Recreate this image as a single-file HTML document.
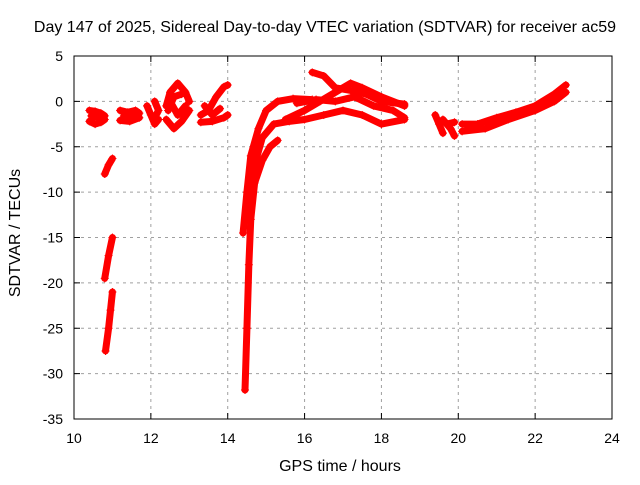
<!DOCTYPE html>
<html><head><meta charset="utf-8"><style>
body{margin:0;background:#fff;}
svg text{font-family:"Liberation Sans",sans-serif;font-size:14px;fill:#000;}
svg text.big{font-size:16px;}
</style></head><body>
<svg id="chart" width="640" height="480">
<text class="big" x="325" y="32" text-anchor="middle">Day 147 of 2025, Sidereal Day-to-day VTEC variation (SDTVAR) for receiver ac59</text>
<g id="grid"></g>
<g id="ticks"></g>
<g id="marks"></g>
<rect x="74" y="56" width="538" height="363" fill="none" stroke="#000" stroke-width="1"/>
<text class="big" x="340" y="471" text-anchor="middle">GPS time / hours</text>
<text class="big" transform="translate(20,233) rotate(-90)" text-anchor="middle">SDTVAR / TECUs</text>
</svg>
<script>
const xTicks=[10,12,14,16,18,20,22,24];
const yTicks=[5,0,-5,-10,-15,-20,-25,-30,-35];
const tracks=[
 [[10.4,-1],[10.55,-1.1],[10.7,-1.3],[10.8,-1.6]],
 [[10.4,-2.2],[10.55,-2.5],[10.7,-2.3],[10.8,-2]],
 [[10.45,-1.6],[10.7,-1.8]],
 [[11.2,-1],[11.4,-1.2],[11.6,-1],[11.7,-1.3]],
 [[11.2,-2.1],[11.45,-2.2],[11.7,-1.8]],
 [[11.3,-1.6],[11.6,-1.6]],
 [[11.9,-0.5],[12.0,-1.5],[12.1,-2.5],[12.2,-2]],
 [[12.1,0],[12.2,-1],[12.1,-1.8]],
 [[12.4,-0.5],[12.5,1],[12.7,2],[12.9,1],[13.0,0]],
 [[12.4,-2],[12.6,-3],[12.8,-2.2],[13.0,-1]],
 [[12.5,0],[12.7,-1.5],[12.9,-0.5]],
 [[12.45,-1],[12.6,0.5],[12.8,0.8]],
 [[13.3,-1.5],[13.5,-1],[13.7,0.5],[13.9,1.6],[14.0,1.8]],
 [[13.3,-2.3],[13.6,-2.2],[13.9,-1.8],[14.0,-1.5]],
 [[13.4,-0.5],[13.6,-1.5],[13.8,-0.8]],
 [[10.8,-8],[10.9,-7],[11.0,-6.3]],
 [[10.8,-19.5],[10.9,-17],[11.0,-15]],
 [[10.82,-27.5],[10.9,-25],[10.95,-23],[11.0,-21]],
 [[14.4,-14.5],[14.5,-10],[14.6,-6],[14.8,-3],[15,-1],[15.3,0],[15.7,0.3],[16.2,0.2]],
 [[14.45,-31.8],[14.5,-25],[14.55,-18],[14.6,-13],[14.7,-9],[14.9,-6.5],[15.1,-5],[15.3,-4.3]],
 [[14.5,-12],[14.7,-7],[14.9,-4],[15.2,-2.5],[15.6,-2.2],[16,-2],[16.5,-1.5],[17,-1],[17.5,-1.5],[18,-2.5],[18.6,-2]],
 [[16.2,3.2],[16.5,2.8],[16.8,1.5],[17.2,1.2],[17.6,0.8],[18,0],[18.6,-0.3]],
 [[15.5,-2],[16,-1],[16.4,0],[16.8,1],[17.2,2],[17.5,1.5],[18,0.5],[18.6,-0.5]],
 [[15.8,-0.2],[16.3,0.2],[16.8,0],[17.3,0.5],[17.8,-0.5],[18.3,-1],[18.6,-1.8]],
 [[19.4,-1.5],[19.5,-2.5],[19.6,-3.5]],
 [[19.6,-2],[19.8,-3],[19.9,-3.8]],
 [[19.7,-2.5],[19.9,-2.3]],
 [[20.1,-2.5],[20.5,-2.5],[21,-1.8],[21.5,-1.2],[22,-0.5],[22.5,0.8],[22.8,1.8]],
 [[20.1,-3.3],[20.7,-3],[21.3,-2],[22,-1],[22.5,0],[22.8,1]]
];
const NS="http://www.w3.org/2000/svg";
const X0=74,X1=612,Y0=56,Y1=419;
function sx(v){return X0+(v-10)/14*(X1-X0);}
function sy(v){return Y0+(5-v)/40*(Y1-Y0);}
function mk(t,a){const e=document.createElementNS(NS,t);for(const k in a)e.setAttribute(k,a[k]);return e;}
const grid=document.getElementById('grid'),ticks=document.getElementById('ticks'),marks=document.getElementById('marks');
xTicks.forEach(v=>{const x=sx(v);
 if(v>10&&v<24){const l=mk('line',{x1:x,x2:x,y1:Y0,y2:Y1,stroke:'#a0a0a0','stroke-dasharray':'3,4'});grid.appendChild(l);}
 ticks.appendChild(mk('line',{x1:x,x2:x,y1:Y1,y2:Y1-6,stroke:'#000'}));
 ticks.appendChild(mk('line',{x1:x,x2:x,y1:Y0,y2:Y0+6,stroke:'#000'}));
 const tx=mk('text',{x:x,y:443,'text-anchor':'middle'});tx.textContent=v;
 
 
 ticks.appendChild(tx);});
yTicks.forEach(v=>{const y=sy(v);
 if(v<5&&v>-35){const l=mk('line',{x1:X0,x2:X1,y1:y,y2:y,stroke:'#a0a0a0','stroke-dasharray':'3,4'});grid.appendChild(l);}
 ticks.appendChild(mk('line',{x1:X0,x2:X0+6,y1:y,y2:y,stroke:'#000'}));
 ticks.appendChild(mk('line',{x1:X1,x2:X1-6,y1:y,y2:y,stroke:'#000'}));
 const tx=mk('text',{x:63,y:y+5,'text-anchor':'end'});tx.textContent=v;
 
 
 ticks.appendChild(tx);});
tracks.forEach(tr=>{
 const pl=mk('polyline',{points:tr.map(p=>sx(p[0])+','+sy(p[1])).join(' '),fill:'none',stroke:'#f00','stroke-width':7,'stroke-linejoin':'round','stroke-linecap':'round'});
 
 
 marks.appendChild(pl);
 tr.forEach(p=>{const x=sx(p[0]),y=sy(p[1]);
  const m=mk('path',{d:`M${x-4},${y}H${x+4}M${x},${y-4}V${y+4}`,stroke:'#f00','stroke-width':1});
  
  
  marks.appendChild(m);});
});
</script>
</body></html>
